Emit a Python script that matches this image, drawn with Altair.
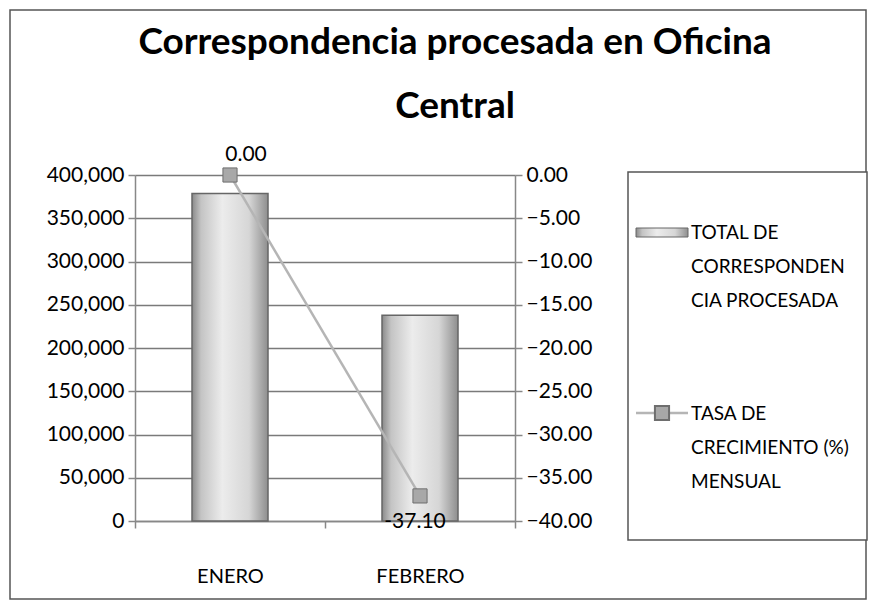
import altair as alt
import pandas as pd

meses = ["ENERO", "FEBRERO"]
total = [378500, 238000]
tasa = [0.00, -37.10]
tasa_labels = ["0.00", "-37.10"]

left_ticks = [0, 50000, 100000, 150000, 200000, 250000, 300000, 350000, 400000]
right_ticks = [0, -5, -10, -15, -20, -25, -30, -35, -40]

title_lines = ["Correspondencia procesada en Oficina", "Central"]
legend_bar = ["TOTAL DE", "CORRESPONDEN", "CIA PROCESADA"]
legend_line = ["TASA DE", "CRECIMIENTO (%)", "MENSUAL"]

df = pd.DataFrame({"mes": meses, "total": total, "tasa": tasa, "lbl": tasa_labels})
one = pd.DataFrame({"k": [0]})

FONT = "Lato"
W, H = 380, 346

x_enc = alt.X("mes:N", sort=meses, title=None,
              scale=alt.Scale(paddingInner=0, paddingOuter=0),
              axis=alt.Axis(labelAngle=0, labelFontSize=20, labelFont=FONT, labelColor="#000",
                            labelPadding=38, tickBand="extent", tickSize=7, tickColor="#888",
                            domainColor="#888", domainWidth=1.5, tickWidth=1.5))

bar_grad = alt.Gradient(gradient="linear", x1=0, x2=1, y1=0, y2=0,
                        stops=[alt.GradientStop(color="#8a8a8a", offset=0),
                               alt.GradientStop(color="#c4c4c4", offset=0.12),
                               alt.GradientStop(color="#ececec", offset=0.4),
                               alt.GradientStop(color="#d6d6d6", offset=0.75),
                               alt.GradientStop(color="#8e8e8e", offset=1)])

bars = alt.Chart(df).mark_bar(size=76, fill=bar_grad, stroke="#666", strokeWidth=1.5).encode(
    x=x_enc,
    y=alt.Y("total:Q", title=None,
            scale=alt.Scale(domain=[0, 400000], nice=False),
            axis=alt.Axis(values=left_ticks, format=",.0f", labelFontSize=21, labelFont=FONT,
                          labelColor="#000", tickSize=7, tickColor="#888", tickWidth=1.5,
                          domainColor="#888", domainWidth=1.5, grid=True, gridColor="#7a7a7a",
                          gridWidth=1.5, labelPadding=4))
)

y2 = alt.Y("tasa:Q", title=None,
           scale=alt.Scale(domain=[-40, 0], nice=False),
           axis=alt.Axis(values=right_ticks, format=".2f", orient="right", labelFontSize=21,
                         labelFont=FONT, labelColor="#000", tickSize=7, tickColor="#888",
                         tickWidth=1.5, domainColor="#888", domainWidth=1.5, grid=False,
                         labelPadding=4))

line = alt.Chart(df).mark_line(color="#b5b5b5", strokeWidth=2.5).encode(x=alt.X("mes:N", sort=meses), y=y2)
pts = alt.Chart(df).mark_point(shape="square", size=200, filled=True, fill="#a8a8a8",
                               stroke="#6e6e6e", strokeWidth=1, opacity=1).encode(
    x=alt.X("mes:N", sort=meses), y=y2)
lbl0 = alt.Chart(df.iloc[[0]]).mark_text(fontSize=21, font=FONT, color="#000", dx=16, dy=-20).encode(
    x=alt.X("mes:N", sort=meses), y=y2, text="lbl:N")
lbl1 = alt.Chart(df.iloc[[1]]).mark_text(fontSize=21, font=FONT, color="#000", dx=-5, dy=26).encode(
    x=alt.X("mes:N", sort=meses), y=y2, text="lbl:N")

right_layer = alt.layer(line, pts, lbl0, lbl1)

# decorations: border, title, legend
border = alt.Chart(one).mark_rect(fill=None, stroke="#555", strokeWidth=1.5).encode(
    x=alt.value(-125), x2=alt.value(731), y=alt.value(-165), y2=alt.value(424))
title = alt.Chart(one).mark_text(fontSize=37, font=FONT, fontWeight="bold", color="#000",
                                 align="center", baseline="alphabetic", lineHeight=64).encode(
    x=alt.value(320), y=alt.value(-121), text=alt.value(title_lines))
leg_box = alt.Chart(one).mark_rect(fill="white", stroke="#555", strokeWidth=1.5).encode(
    x=alt.value(493), x2=alt.value(732), y=alt.value(-3), y2=alt.value(365))
leg_sw = alt.Chart(one).mark_rect(fill=bar_grad, stroke="#666", strokeWidth=1).encode(
    x=alt.value(501), x2=alt.value(553), y=alt.value(53), y2=alt.value(62))
leg_ln = alt.Chart(one).mark_rule(color="#b5b5b5", strokeWidth=2.5).encode(
    x=alt.value(501), x2=alt.value(553), y=alt.value(238))
leg_pt = alt.Chart(one).mark_point(shape="square", size=200, filled=True, fill="#a8a8a8",
                                   stroke="#6e6e6e", opacity=1).encode(x=alt.value(527), y=alt.value(238))
leg_t1 = alt.Chart(one).mark_text(fontSize=19, font=FONT, color="#000", align="left",
                                  baseline="middle", lineHeight=34).encode(
    x=alt.value(556), y=alt.value(58), text=alt.value(legend_bar))
leg_t2 = alt.Chart(one).mark_text(fontSize=19, font=FONT, color="#000", align="left",
                                  baseline="middle", lineHeight=34).encode(
    x=alt.value(556), y=alt.value(239), text=alt.value(legend_line))

chart = alt.layer(bars, right_layer, border, title, leg_box, leg_sw, leg_ln, leg_pt, leg_t1, leg_t2).resolve_scale(
    y="independent"
).properties(
    width=W, height=H,
    autosize=alt.AutoSizeParams(type="none"),
    padding={"left": 127, "top": 167, "right": 353, "bottom": 79},
).configure_view(stroke=None).configure(background="white")

chart.save("out.html", embed_options={"renderer": "svg", "actions": False})
